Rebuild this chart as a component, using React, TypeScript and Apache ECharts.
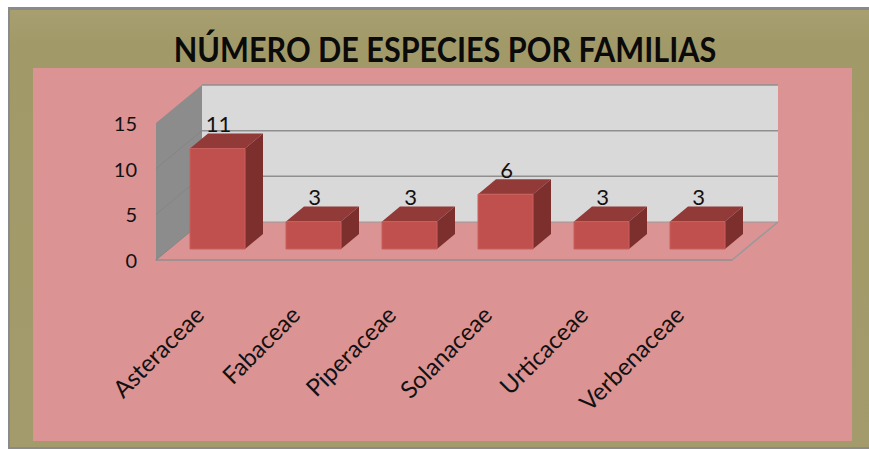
import React, { useEffect, useRef } from "react";
import * as echarts from "echarts";

const titleText = "NÚMERO DE ESPECIES POR FAMILIAS";
const categories = ["Asteraceae", "Fabaceae", "Piperaceae", "Solanaceae", "Urticaceae", "Verbenaceae"];
const speciesCounts = [11, 3, 3, 6, 3, 3];
const yTicks = [0, 5, 10, 15];

const DEPTH_X = 46;
const DEPTH_Y = -38;
const BAR_SHIFT_X = 13.5;
const BAR_SHIFT_Y = -11;
const BAR_DEPTH_X = 18;
const BAR_DEPTH_Y = -15;
const BAR_WIDTH = 55;

export default function App() {
  const ref = useRef<HTMLDivElement>(null);
  useEffect(() => {
    document.body.style.margin = "0";
    const chart = echarts.init(ref.current!, null, { renderer: "svg" });
    const poly = (points: number[][], fill: string, stroke?: string) => ({
      type: "polygon",
      shape: { points },
      style: { fill, stroke: stroke || "none", lineWidth: stroke ? 1 : 0 },
    });
    const seg = (a: number[], b: number[], stroke: string, lineWidth = 1.5) => ({
      type: "line",
      shape: { x1: a[0], y1: a[1], x2: b[0], y2: b[1] },
      style: { stroke, lineWidth },
    });
    chart.setOption({
      animation: false,
      backgroundColor: "#ffffff",
      graphic: [
        { type: "rect", z: -10, shape: { x: 8, y: 7, width: 861, height: 442 }, style: { fill: "#8a8a8a" } },
        {
          type: "rect",
          z: -9,
          shape: { x: 10, y: 10, width: 859, height: 437 },
          style: {
            fill: {
              type: "linear", x: 0, y: 0, x2: 0, y2: 1,
              colorStops: [
                { offset: 0, color: "#a89f70" },
                { offset: 0.08, color: "#a29969" },
                { offset: 1, color: "#a49b6c" },
              ],
            },
          },
        },
        { type: "rect", z: -8, shape: { x: 33, y: 68, width: 819, height: 373 }, style: { fill: "#dc9394" } },
        {
          type: "text",
          z: 5,
          x: 445,
          y: 49,
          scaleX: 0.9,
          style: {
            text: titleText,
            fill: "#0a0a0a",
            font: 'bold 34px Lato',
            textAlign: "center",
            textVerticalAlign: "middle",
          },
        },
      ],
      grid: { left: 156, top: 123, width: 576, height: 137, containLabel: false },
      xAxis: {
        type: "category",
        data: categories,
        axisTick: { show: false },
        axisLine: { show: true, lineStyle: { color: "#8f8f8f", width: 1.5 } },
        axisLabel: {
          rotate: 45,
          margin: 45,
          padding: [0, 7, 0, 0],
          interval: 0,
          fontFamily: "Lato",
          fontSize: 24,
          color: "#111111",
        },
      },
      yAxis: {
        type: "value",
        min: yTicks[0],
        max: yTicks[yTicks.length - 1],
        interval: 5,
        axisLine: { show: false },
        axisTick: { show: false },
        splitLine: { show: false },
        axisLabel: { margin: 19, fontFamily: "Lato", fontSize: 20, color: "#111111" },
      },
      series: [
        {
          type: "custom",
          z: 1,
          silent: true,
          data: [0],
          renderItem: (params: any, api: any) => {
            const g = params.coordSys;
            const L = g.x;
            const R = g.x + g.width;
            const B = g.y + g.height;
            const T = g.y;
            const children: any[] = [
              poly([[L + DEPTH_X, T + DEPTH_Y], [R + DEPTH_X, T + DEPTH_Y], [R + DEPTH_X, B + DEPTH_Y], [L + DEPTH_X, B + DEPTH_Y]], "#d9d9d9"),
              poly([[L, T], [L + DEPTH_X, T + DEPTH_Y], [L + DEPTH_X, B + DEPTH_Y], [L, B]], "#8c8c8c"),
            ];
            yTicks.forEach((t) => {
              const y = api.coord([0, t])[1];
              if (t !== 0) children.push(seg([L + DEPTH_X, y + DEPTH_Y], [R + DEPTH_X, y + DEPTH_Y], "#8f8f8f"));
              if (t !== 15) children.push(seg([L, y], [L + DEPTH_X, y + DEPTH_Y], "#858585", 1));
            });
            children.push(seg([L + DEPTH_X, B + DEPTH_Y], [R + DEPTH_X, B + DEPTH_Y], "#9a9a9a", 1));
            children.push(seg([R, B], [R + DEPTH_X, B + DEPTH_Y], "#999999", 1.5));
            return { type: "group", children };
          },
        },
        {
          type: "custom",
          z: 3,
          silent: true,
          data: speciesCounts.map((v, i) => [i, v]),
          encode: { x: 0, y: 1 },
          renderItem: (_params: any, api: any) => {
            const top = api.coord([api.value(0), api.value(1)]);
            const base = api.coord([api.value(0), 0]);
            const x0 = top[0] - BAR_WIDTH / 2 + BAR_SHIFT_X;
            const x1 = x0 + BAR_WIDTH;
            const yT = top[1] + BAR_SHIFT_Y;
            const yB = base[1] + BAR_SHIFT_Y;
            return {
              type: "group",
              children: [
                poly([[x0, yT], [x1, yT], [x1 + BAR_DEPTH_X, yT + BAR_DEPTH_Y], [x0 + BAR_DEPTH_X, yT + BAR_DEPTH_Y]], "#923a38"),
                poly([[x1, yT], [x1 + BAR_DEPTH_X, yT + BAR_DEPTH_Y], [x1 + BAR_DEPTH_X, yB + BAR_DEPTH_Y], [x1, yB]], "#7c2f2d"),
                poly([[x0, yT], [x1, yT], [x1, yB], [x0, yB]], "#c0504d", "#c95f5c"),
                {
                  type: "text",
                  x: (x0 + x1) / 2 + 1,
                  y: yT - 25,
                  style: {
                    text: String(api.value(1)),
                    fill: "#111111",
                    font: '22px Lato',
                    textAlign: "center",
                    textVerticalAlign: "middle",
                  },
                },
              ],
            };
          },
        },
      ],
    });
    return () => chart.dispose();
  }, []);
  return <div ref={ref} style={{ width: 869, height: 449 }} />;
}
